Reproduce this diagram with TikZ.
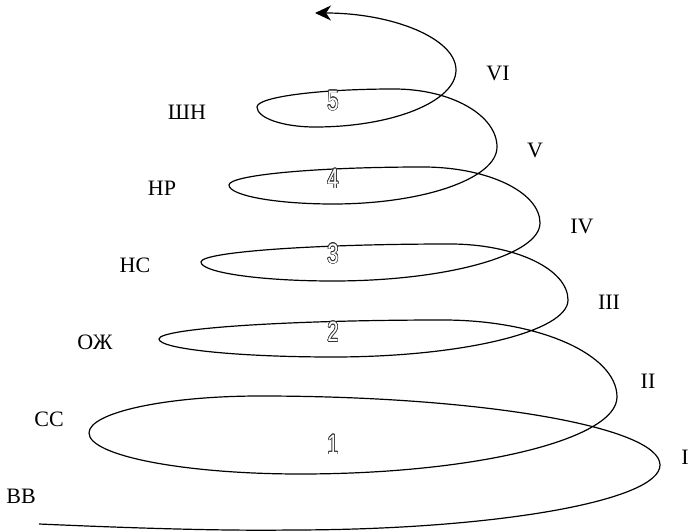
\documentclass[tikz,border=0pt]{standalone}
\usepackage{fontspec}
\setmainfont{Liberation Serif}
\newfontfamily\numfont[FakeStretch=0.72]{Liberation Sans}
\usepackage{contour}
\usetikzlibrary{arrows.meta}
\contourlength{0.6pt}
\newcommand{\hollow}[1]{\contour{black!80}{\textcolor{white}{#1}}}
\tikzset{
  turnlabel/.style={font=\fontsize{22}{24}\selectfont, inner sep=0pt},
  levellabel/.style={font=\fontsize{22}{24}\selectfont, inner sep=0pt},
  levelnum/.style={font=\numfont\fontsize{28}{30}\selectfont, inner sep=0pt},
  spiral/.style={line width=1.2pt,
                 -{Stealth[length=16pt, width=15pt, inset=5pt]}},
}

\begin{document}
\begin{tikzpicture}[x=1pt, y=-1pt]
  \useasboundingbox (0,0) rectangle (688,532);

  % spiral, from the bottom up
  \draw[spiral] (39,524) .. controls (130,528) and (220,531) .. (290,530)
    arc[start angle=90, end angle=0, x radius=370, y radius=65]
    % loop 1
    arc[start angle=0, end angle=-90, x radius=400, y radius=69]
    arc[start angle=-90, end angle=-180, x radius=171, y radius=37]
    arc[start angle=180, end angle=90, x radius=211, y radius=41]
    arc[start angle=90, end angle=0, x radius=317, y radius=77]
    % loop 2
    arc[start angle=0, end angle=-90, x radius=174, y radius=77]
    arc[start angle=-90, end angle=-180, x radius=284, y radius=19]
    arc[start angle=180, end angle=90, x radius=174, y radius=18]
    arc[start angle=90, end angle=0, x radius=235, y radius=57]
    % loop 3
    arc[start angle=0, end angle=-90, x radius=118, y radius=56]
    arc[start angle=-90, end angle=-180, x radius=249, y radius=18]
    arc[start angle=180, end angle=90, x radius=132, y radius=19]
    arc[start angle=90, end angle=0, x radius=207, y radius=58]
    % loop 4
    arc[start angle=0, end angle=-90, x radius=117, y radius=56]
    arc[start angle=-90, end angle=-180, x radius=194, y radius=18]
    arc[start angle=180, end angle=90, x radius=104, y radius=19]
    arc[start angle=90, end angle=0, x radius=164, y radius=57]
    % loop 5
    arc[start angle=0, end angle=-90, x radius=103, y radius=58]
    arc[start angle=-90, end angle=-180, x radius=137, y radius=18]
    arc[start angle=180, end angle=90, x radius=58, y radius=20]
    arc[start angle=90, end angle=0, x radius=141, y radius=57]
    % way out
    arc[start angle=0, end angle=-90, x radius=141, y radius=57];

  % turns
  \node[turnlabel] (tI)   at (685,457) {I};
  \node[turnlabel] (tII)  at (648,381) {II};
  \node[turnlabel] (tIII) at (609,302) {III};
  \node[turnlabel] (tIV)  at (582,226) {IV};
  \node[turnlabel] (tV)   at (535,150) {V};
  \node[turnlabel] (tVI)  at (498,73)  {VI};

  % levels
  \node[levellabel] (vv) at (21,496)  {ВВ};
  \node[levellabel] (ss) at (49,419)  {СС};
  \node[levellabel] (oz) at (95,342)  {ОЖ};
  \node[levellabel] (ns) at (135,265) {НС};
  \node[levellabel] (nr) at (162,188) {НР};
  \node[levellabel] (sh) at (187,112) {ШН};

  \node[levelnum] (n1) at (333,445) {\hollow{1}};
  \node[levelnum] (n2) at (333,332) {\hollow{2}};
  \node[levelnum] (n3) at (333,254) {\hollow{3}};
  \node[levelnum] (n4) at (333,179) {\hollow{4}};
  \node[levelnum] (n5) at (333,101) {\hollow{5}};
\end{tikzpicture}
\end{document}
